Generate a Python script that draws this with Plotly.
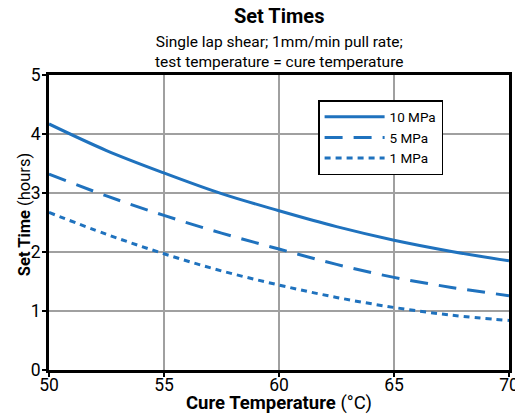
import plotly.graph_objects as go

temps = [50, 52.5, 55, 57.5, 60, 62.5, 65, 67.5, 70]
set_10mpa = [4.17, 3.72, 3.34, 2.99, 2.70, 2.43, 2.20, 2.01, 1.85]
set_5mpa = [3.32, 2.95, 2.62, 2.32, 2.05, 1.79, 1.57, 1.40, 1.26]
set_1mpa = [2.67, 2.30, 1.97, 1.68, 1.44, 1.23, 1.06, 0.93, 0.84]
series_names = ["10 MPa", "5 MPa", "1 MPa"]
x_ticks = [50, 55, 60, 65, 70]
y_ticks = [0, 1, 2, 3, 4, 5]

FONT = "Liberation Sans Narrow, Roboto, Arial Narrow, sans-serif"
BLUE = "#1f72be"

fig = go.Figure()
for name, vals, dash in zip(series_names, [set_10mpa, set_5mpa, set_1mpa],
                            ["solid", "18px,11px", "6px,5px"]):
    fig.add_trace(go.Scatter(x=temps, y=vals, name=name, mode="lines",
                             line=dict(color=BLUE, width=3, dash=dash, shape="spline")))

fig.update_layout(
    width=515, height=414,
    margin=dict(l=49, r=6, t=75, b=44),
    paper_bgcolor="white", plot_bgcolor="white",
    font=dict(family=FONT, color="black", size=14),
    showlegend=True,
    legend=dict(x=0.585, y=0.915, xanchor="left", yanchor="top",
                bordercolor="black", borderwidth=1.5, bgcolor="white",
                font=dict(size=13.5, family=FONT), tracegroupgap=0,
                itemwidth=60),
    xaxis=dict(range=[50, 70], tickvals=x_ticks, showgrid=True, gridcolor="#a0a0a0",
               gridwidth=2, showline=True, linecolor="black", linewidth=3, mirror=True,
               ticks="outside", ticklen=4, tickwidth=1.5, tickcolor="black",
               tickfont=dict(size=17.5), zeroline=False, ticklabeloverflow="allow",
               ticklabelstandoff=-7, automargin=False),
    yaxis=dict(range=[0, 5], tickvals=y_ticks, showgrid=True, gridcolor="#a0a0a0",
               gridwidth=2, showline=True, linecolor="black", linewidth=3, mirror=True,
               ticks="outside", ticklen=4, tickwidth=1.5, tickcolor="black",
               tickfont=dict(size=17.5), zeroline=False, ticklabeloverflow="allow",
               ticklabelstandoff=-2, automargin=False),
)

fig.add_annotation(text="<b>Set Times</b>", x=0.5, y=1, xref="paper", yref="paper",
                   xanchor="center", yanchor="bottom", yshift=45, showarrow=False,
                   font=dict(size=20, family=FONT))
fig.add_annotation(text="Single lap shear; 1mm/min pull rate;<br>test temperature = cure temperature",
                   x=0.5, y=1, xref="paper", yref="paper", xanchor="center", yanchor="bottom",
                   yshift=2, showarrow=False, font=dict(size=15.5, family=FONT))
fig.add_annotation(text="<b>Cure Temperature</b> (°C)", x=0.5, y=0, xref="paper", yref="paper",
                   xanchor="center", yanchor="middle", yshift=-33, showarrow=False,
                   font=dict(size=18.5, family=FONT))
fig.add_annotation(text="<b>Set Time</b> (hours)", x=0, y=0.525, xref="paper", yref="paper",
                   xanchor="center", yanchor="middle", xshift=-25, textangle=-90,
                   showarrow=False, font=dict(size=16.5, family=FONT))

fig.write_html("out.html")
